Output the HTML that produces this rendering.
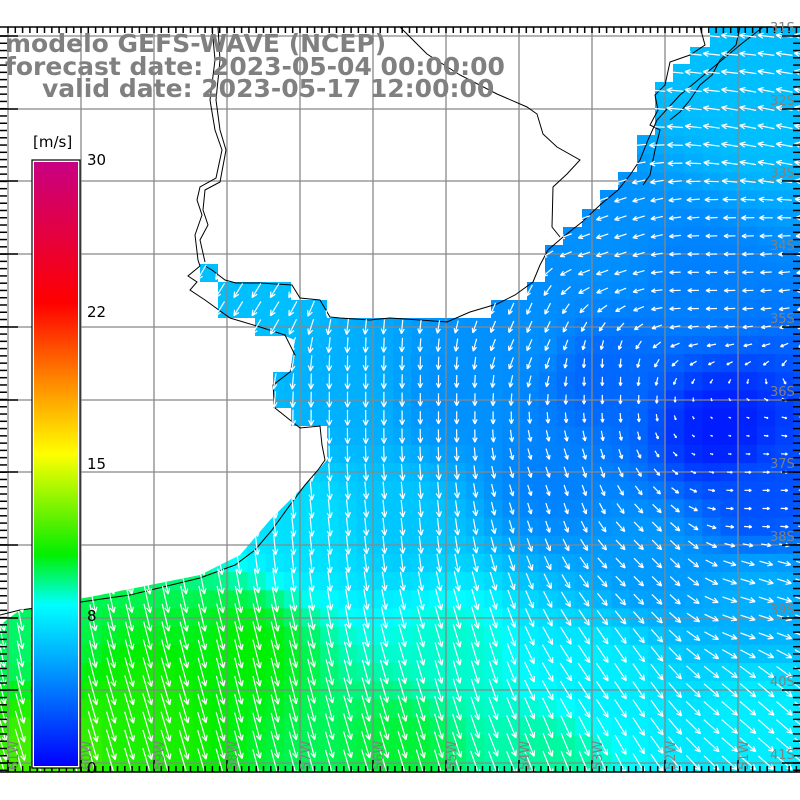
<!DOCTYPE html>
<html><head><meta charset="utf-8">
<style>
html,body{margin:0;padding:0;background:#fff;}
svg{display:block}
.t{font-family:"DejaVu Sans","Liberation Sans",sans-serif;font-weight:bold;font-size:25px;fill:#808080}
.l{font-family:"DejaVu Sans","Liberation Sans",sans-serif;font-size:13px;fill:#808080}
.c{font-family:"DejaVu Sans","Liberation Sans",sans-serif;font-size:15px;fill:#000}
</style></head><body>
<svg id="s" width="800" height="800" xmlns="http://www.w3.org/2000/svg">
<defs>
<clipPath id="ocean"><polygon points="710,27 800,27 800,772 0,772 0,625 20,610 100,595 200,575 240,555 270,520 310,480 327,460 327,426 291,426 291,408 273,408 273,372 290,372 295,340 285,336 255,336 255,318 218,318 218,282 200,282 200,264 218,264 218,282 291,282 291,300 327,300 327,318 491,318 491,300 527,300 527,282 545,282 545,245 563,245 563,227 582,227 582,209 600,209 600,190 618,190 618,172 637,172 637,135 655,135 655,82 673,82 673,64 690,64 690,47 710,47"/></clipPath>
<linearGradient id="cb" x1="0" y1="1" x2="0" y2="0">
<stop offset="0" stop-color="rgb(0,0,255)"/>
<stop offset="0.1333" stop-color="rgb(0,128,255)"/>
<stop offset="0.2667" stop-color="rgb(0,255,255)"/>
<stop offset="0.35" stop-color="rgb(0,240,0)"/>
<stop offset="0.4" stop-color="rgb(80,240,0)"/>
<stop offset="0.5167" stop-color="rgb(255,255,0)"/>
<stop offset="0.6333" stop-color="rgb(255,140,0)"/>
<stop offset="0.7667" stop-color="rgb(255,0,0)"/>
<stop offset="1" stop-color="rgb(200,0,130)"/>
</linearGradient>
</defs>
<g id="cells" clip-path="url(#ocean)"></g>
<g id="grid" stroke="#888" stroke-width="1.3"></g>
<g id="coast" fill="none" stroke="#000" stroke-width="1"></g>
<g id="arr" stroke="#fff" stroke-width="1.2" fill="none" clip-path="url(#ocean)"></g>
<g id="ticks" stroke="#000" stroke-width="1.5"></g>
<g id="labs"></g>
<text class="t" x="5" y="52">modelo GEFS-WAVE (NCEP)</text>
<text class="t" x="5" y="75">forecast date: 2023-05-04 00:00:00</text>
<text class="t" x="42" y="97">valid date: 2023-05-17 12:00:00</text>
<text class="c" x="33" y="147">[m/s]</text>
<rect x="32" y="160" width="48" height="608" fill="#fff" stroke="#000" stroke-width="1.2"/>
<rect x="34" y="162" width="44" height="604" fill="url(#cb)"/>
<text class="c" x="87" y="165">30</text>
<text class="c" x="87" y="317">22</text>
<text class="c" x="87" y="469">15</text>
<text class="c" x="87" y="621">8</text>
<text class="c" x="87" y="773">0</text>
</svg>
<script>
var NS="http://www.w3.org/2000/svg";
function el(p,t,a){var e=document.createElementNS(NS,t);for(var k in a)e.setAttribute(k,a[k]);p.appendChild(e);return e;}
var P=[[760,120,6,-1,-0.2],[700,60,6,-1,-0.1],[600,250,4.5,-0.9,0.3],[700,280,4,-1,0],[250,300,6,-0.5,0.8],[350,400,5.5,0,1],[450,400,4.5,0,1],[520,330,4.5,-0.4,0.9],[720,430,0.8,0,0],[600,380,3.2,0,0.3],[550,480,4,0.3,0.9],[400,520,6.2,0.1,1],[300,530,7,0.1,1],[650,560,4.8,0.7,0.7],[760,600,5.5,1,0.3],[600,680,7.5,0.6,0.9],[760,720,7.5,0.8,0.7],[450,650,8.5,0.3,1],[250,650,10.5,0.25,1],[150,720,11,0.3,1],[50,750,11.8,0.3,1],[30,640,9.5,0.2,1],[400,750,10,0.3,1],[550,760,9,0.4,1],[760,500,2.5,1,0]];
function f(x,y){var w=0,s=0,u=0,v=0;for(var i=0;i<P.length;i++){var d=(x-P[i][0])**2+(y-P[i][1])**2+400;var q=Math.pow(d,-1.6);w+=q;s+=q*P[i][2];u+=q*P[i][3];v+=q*P[i][4];}return [s/w,u/w,v/w];}
var st=[[0,0,0,255],[4,0,128,255],[8,0,255,255],[10.5,0,240,0],[12,80,240,0],[15.5,255,255,0],[19,255,140,0],[23,255,0,0],[30,200,0,130]];
function col(s){for(var i=1;i<st.length;i++){if(s<=st[i][0]){var a=st[i-1],b=st[i],t=(s-a[0])/(b[0]-a[0]);return "rgb("+[1,2,3].map(function(k){return Math.round(a[k]+(b[k]-a[k])*t)}).join(",")+")";}}return "rgb(200,0,130)";}
var cg=document.getElementById("cells"),ag=document.getElementById("arr");
var cw=18.2,ch=18.17,x0=-7.4;
for(var i=0;i<45;i++)for(var j=0;j<41;j++){var x=x0+i*cw,y=27+j*ch,cx=x+cw/2,cy=y+ch/2;var r=f(cx,cy);
el(cg,"rect",{x:x.toFixed(1),y:y.toFixed(1),width:(cw+0.6).toFixed(1),height:(ch+0.6).toFixed(1),fill:col(r[0])});
var n=Math.hypot(r[1],r[2])||1,ux=r[1]/n,uy=r[2]/n,L=r[0]*2.8;if(L<2)L=2;
var x1=cx-ux*L/2,y1=cy-uy*L/2,x2=cx+ux*L/2,y2=cy+uy*L/2,h=Math.min(6,L*0.4);
var d="M"+x1.toFixed(1)+" "+y1.toFixed(1)+"L"+x2.toFixed(1)+" "+y2.toFixed(1);
for(var sg=-1;sg<=1;sg+=2){var ca=Math.cos(2.7*sg),sa=Math.sin(2.7*sg);var hx=ux*ca-uy*sa,hy=ux*sa+uy*ca;d+="M"+x2.toFixed(1)+" "+y2.toFixed(1)+"l"+(hx*h).toFixed(1)+" "+(hy*h).toFixed(1);}
el(ag,"path",{d:d});}
var gg=document.getElementById("grid"),lg=document.getElementById("labs"),tg=document.getElementById("ticks");
var vx=[8,81,154,227,300,373,446,519,592,665,738];var hy=[36,109,181,254,327,400,472,545,618,690,763];
vx.forEach(function(x,k){el(gg,"line",{x1:x,y1:27,x2:x,y2:772});var t=el(lg,"text",{"class":"l",transform:"translate("+(x+10)+",770) rotate(-90)"});t.textContent=(61-k)+"W";
el(tg,"line",{x1:x,y1:760,x2:x,y2:772});});
hy.forEach(function(y,k){el(gg,"line",{x1:0,y1:y,x2:800,y2:y});var t=el(lg,"text",{"class":"l",x:770,y:y-4});t.textContent=(31+k)+"S";
el(tg,"line",{x1:0,y1:y,x2:18,y2:y});el(tg,"line",{x1:782,y1:y,x2:800,y2:y});});
for(var y=36;y<772;y+=7.27){el(tg,"line",{x1:0,y1:y,x2:7,y2:y});el(tg,"line",{x1:793,y1:y,x2:800,y2:y});}
for(var x=8;x<800;x+=7.3){el(tg,"line",{x1:x,y1:766,x2:x,y2:772});el(tg,"line",{x1:x,y1:27,x2:x,y2:33});}
el(tg,"line",{x1:0,y1:27,x2:800,y2:27});el(tg,"line",{x1:0,y1:772,x2:800,y2:772});
var co=document.getElementById("coast");
// Atlantic coast north
el(co,"polyline",{points:"763,27 740,45 710,70 680,95 657,120 648,140 640,160 630,175 618,190 600,205 582,222 563,237 548,250 540,265 533,282 515,295 497,304 470,312 447,322 420,320 390,318 370,320 340,318 330,317 320,300 300,298 292,285 260,283 236,283 225,280 212,270 205,266"});
el(co,"polyline",{points:"200,266 188,276 197,282 190,290 205,300 230,318 260,327 285,335 295,355 290,372 273,385 275,408 290,420 300,428 320,426 322,445 325,460 318,470 305,485 290,505 272,530 255,550 235,565 200,578 130,595 60,605 20,610 0,615"});
// inland border / river
el(co,"polyline",{points:"212,27 215,60 210,100 215,130 222,150 216,178 200,187 197,200 202,215 195,235 198,260 200,266"});
el(co,"polyline",{points:"218,27 220,60 216,100 220,130 226,150 220,182 205,190 203,210 208,225 200,240 205,262"});
el(co,"polyline",{points:"400,27 420,47 427,54 460,75 497,94 527,107 537,114 543,134 557,147 580,160 567,174 553,187 552,227 560,237"});
el(co,"polyline",{points:"700,27 705,45 690,55 670,62 665,85 655,95 658,110 650,125 660,130 655,150 650,175 643,185"});
el(co,"polyline",{points:"740,27 736,45 720,60 712,75 700,85 690,100 680,112 670,120"});
</script>
</body></html>
